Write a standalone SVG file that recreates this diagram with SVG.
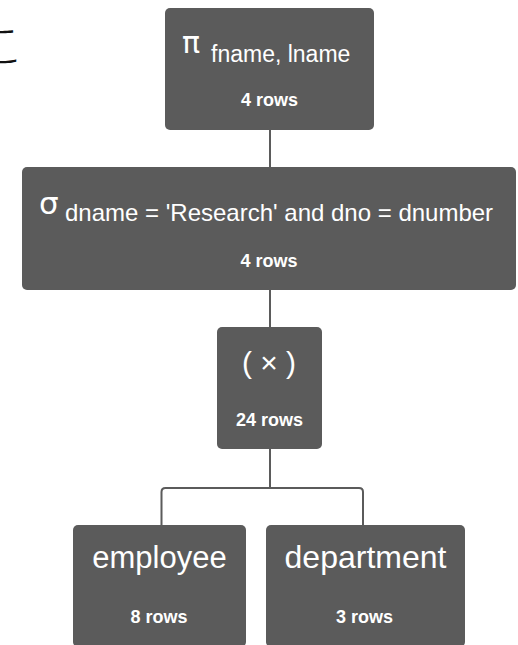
<svg xmlns="http://www.w3.org/2000/svg" width="518" height="645" viewBox="0 0 518 645">
  <style>
    .node { fill: #5b5b5b; }
    .t { fill: #ffffff; font-family: "Liberation Sans", Arial, sans-serif; }
    .sym { fill: #ffffff; font-family: "DejaVu Sans", "Liberation Sans", sans-serif; }
    .rows { fill: #ffffff; font-family: "Liberation Sans", Arial, sans-serif; font-size: 18px; font-weight: bold; text-anchor: middle; }
    .edge { fill: none; stroke: #5b5b5b; stroke-width: 2; }
  </style>
  <rect width="518" height="645" fill="#ffffff"/>
  <text x="-22" y="62" font-family="'Noto Sans CJK JP', sans-serif" font-size="46" font-weight="300" fill="#111111">こ</text>
  <g id="connectors">
    <line class="edge" x1="270" y1="130" x2="270" y2="167"/>
    <line class="edge" x1="270" y1="290" x2="270" y2="327"/>
    <line class="edge" x1="270" y1="449" x2="270" y2="488"/>
    <path class="edge" d="M161.5 525 V492 Q161.5 488 165.5 488 H359 Q363 488 363 492 V525"/>
  </g>
  <g id="project">
    <rect class="node" x="165" y="8" width="209" height="122" rx="5"/>
    <text class="sym" x="182" y="53" font-size="30">π</text>
    <text class="t" x="211" y="62" font-size="23">fname, lname</text>
    <text class="rows" x="269.5" y="106">4 rows</text>
  </g>
  <g id="select">
    <rect class="node" x="22" y="167" width="494" height="123" rx="5"/>
    <text class="sym" x="39" y="214" font-size="31">σ</text>
    <text class="t" x="65" y="221" font-size="24">dname = 'Research' and dno = dnumber</text>
    <text class="rows" x="269" y="267">4 rows</text>
  </g>
  <g id="cross">
    <rect class="node" x="217" y="327" width="105" height="122" rx="5"/>
    <text class="t" x="269" y="373" font-size="30" text-anchor="middle">( × )</text>
    <text class="rows" x="269.5" y="426">24 rows</text>
  </g>
  <g id="employee">
    <rect class="node" x="73" y="525" width="173" height="122" rx="5"/>
    <text class="t" x="159.5" y="568" font-size="31" text-anchor="middle">employee</text>
    <text class="rows" x="159" y="623">8 rows</text>
  </g>
  <g id="department">
    <rect class="node" x="266" y="525" width="199" height="122" rx="5"/>
    <text class="t" x="365.5" y="568" font-size="32" text-anchor="middle">department</text>
    <text class="rows" x="364.5" y="623">3 rows</text>
  </g>
</svg>
